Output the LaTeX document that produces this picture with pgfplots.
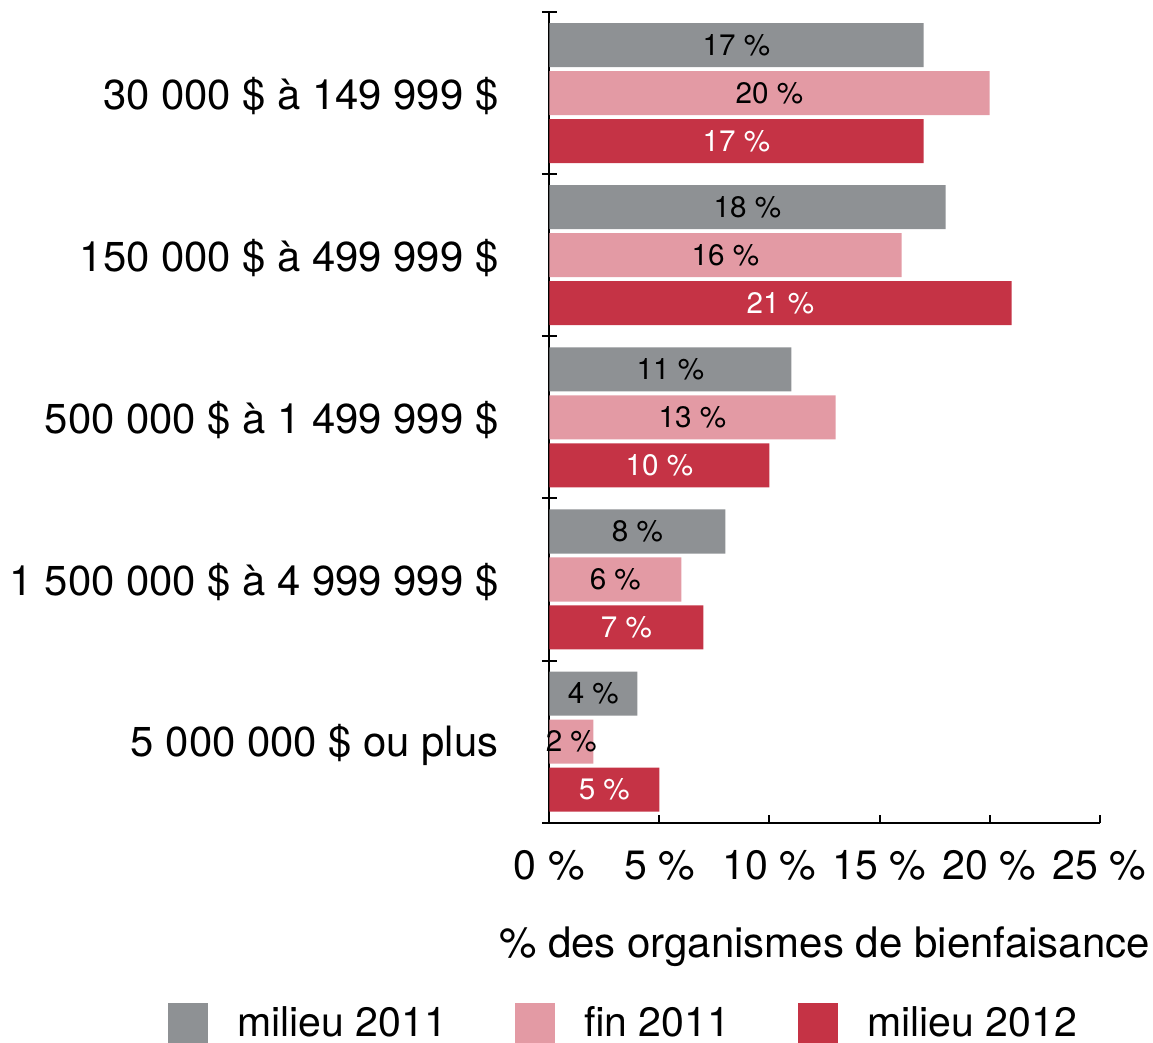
\documentclass[border=0pt]{standalone}
\usepackage{fontspec}
\setmainfont{TeX Gyre Heros}
\usepackage{pgfplots}
\pgfplotsset{compat=1.18}
\definecolor{cgrey}{HTML}{8E9194}
\definecolor{cpink}{HTML}{E39AA4}
\definecolor{cred}{HTML}{C53345}
\pgfplotsset{
  sqlegend/.style={legend image code/.code={\fill[##1] (0pt,-10pt) rectangle (20pt,10pt);}},
}
\begin{document}
\begin{tikzpicture}
\begin{axis}[
  xbar,
  scale only axis, width=275pt, height=405pt,
  xmin=0, xmax=25, ymin=-0.5, ymax=4.5,
  axis lines*=left,
  axis line style={line width=1pt, -},
  /pgf/number format/assume math mode=true,
  xtick={0,5,10,15,20,25},
  xticklabels={0 \%,5 \%,10 \%,15 \%,20 \%,25 \%},
  xticklabel style={font=\fontsize{20.5}{24}\selectfont, inner sep=0pt, anchor=north, yshift=-13.5pt},
  x tick style={line width=1pt, black},
  tick align=inside, major tick length=4pt,
  ytick={0,1,2,3,4},
  yticklabels={5 000 000 \$ ou plus, 1 500 000 \$ à 4 999 999 \$, 500 000 \$ à 1 499 999 \$, 150 000 \$ à 499 999 \$, 30 000 \$ à 149 999 \$},
  yticklabel style={font=\fontsize{20.9}{25}\selectfont, inner sep=0pt, anchor=east, xshift=-25.2pt, yshift=-1.5pt},
  y tick style={draw=none},
  extra y ticks={-0.5,0.5,1.5,2.5,3.5,4.5},
  extra y tick labels={},
  extra y tick style={tick align=center, major tick length=7.5pt, y tick style={draw=black, line width=1pt}},
  xlabel={\% des organismes de bienfaisance},
  xlabel style={at={(axis description cs:0.5,0)}, anchor=north, inner sep=0pt, yshift=-52pt, font=\fontsize{21}{25}\selectfont},
  bar width=0.272,
  nodes near coords={\pgfmathprintnumber{\pgfplotspointmeta} \%},
  point meta=x,
  visualization depends on=rawx \as \rawx,
  every node near coord/.append style={anchor=center, shift={(axis direction cs:{-\rawx/2},0)}, font=\fontsize{14.8}{16}\selectfont},
  legend columns=3,
  legend style={at={(axis description cs:-0.693,-0.247)}, anchor=west, draw=none, fill=none, inner sep=0pt,
    font=\fontsize{20.5}{24}\selectfont, nodes={inner sep=0pt},
    /tikz/every odd column/.append style={column sep=14.5pt},
    /tikz/every even column/.append style={column sep=34pt}},
]
\addplot[fill=cgrey, draw=none, bar shift=0.296, sqlegend, nodes near coords style={text=black}]
  coordinates {(17,4) (18,3) (11,2) (8,1) (4,0)};
\addplot[fill=cpink, draw=none, bar shift=0, sqlegend, nodes near coords style={text=black}]
  coordinates {(20,4) (16,3) (13,2) (6,1) (2,0)};
\addplot[fill=cred, draw=none, bar shift=-0.296, sqlegend, nodes near coords style={text=white}]
  coordinates {(17,4) (21,3) (10,2) (7,1) (5,0)};
\legend{milieu 2011, fin 2011, milieu 2012}
\end{axis}
\path ([shift={(-5pt,5.5pt)}]current bounding box.north west) ([shift={(1.5pt,0pt)}]current bounding box.south east);
\end{tikzpicture}
\end{document}
